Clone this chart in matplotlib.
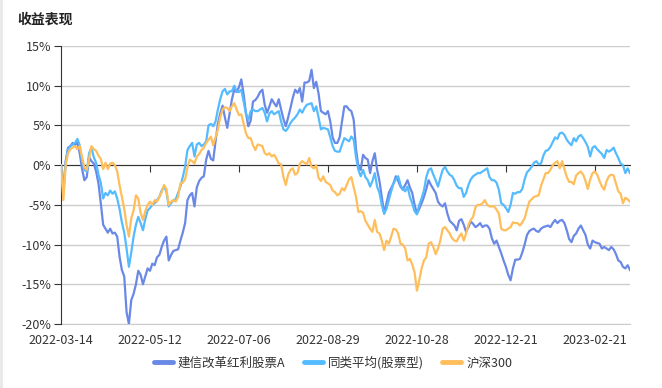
import numpy as np
import matplotlib
matplotlib.use('Agg')
import matplotlib.pyplot as plt
from matplotlib.lines import Line2D

plt.rcParams['font.family'] = ['Noto Sans CJK SC', 'DejaVu Sans']

title = '收益表现'
series_names = ['建信改革红利股票A', '同类平均(股票型)', '沪深300']
tick_labels = ['2022-03-14', '2022-05-12', '2022-07-06', '2022-08-29',
               '2022-10-28', '2022-12-21', '2023-02-21']
tick_step = 38  # trading days between labelled dates

# cumulative return, %, one value per trading day
fund = [0, -3.5, 0.5, 2.2, 2.4, 2.8, 2.5, 2.9, 1.5, -0.5,
        -1.9, -1.5, 1.0, 0.5, 0.2, -0.8, -2.3, -4.8, -7.5, -8.0,
        -8.5, -8.0, -8.6, -8.5, -9.0, -11.5, -13.2, -14.0, -18.5, -20.0,
        -17.0, -16.2, -15.0, -13.3, -13.8, -15.0, -14.0, -13.0, -13.3, -12.4,
        -12.6, -11.6, -11.3, -10.3, -9.5, -9.0, -12.0, -11.3, -10.8, -10.7,
        -10.6, -9.5, -8.5, -7.3, -4.4, -3.8, -3.5, -5.2, -2.8, -2.0,
        -1.6, -1.4, 0.7, 1.8, 0.8, 0.6, 3.0, 5.2, 6.5, 7.5,
        6.0, 4.7, 6.5, 8.3, 9.5, 9.2, 9.8, 10.8, 8.9, 6.5,
        4.9, 5.6, 8.0, 8.2, 8.6, 9.2, 9.5, 7.6, 6.6, 7.4,
        8.3, 7.8, 7.4, 8.3, 7.0, 5.8, 4.9, 6.0, 7.2, 8.5,
        9.5, 9.1, 9.7, 8.0, 10.4, 10.4, 10.6, 12.0, 9.7, 10.5,
        9.0, 6.8, 6.6, 6.4, 6.8, 5.5, 3.5, 2.8, 2.8, 3.5,
        5.5, 7.4, 7.4, 7.0, 6.8, 5.7, 2.0, -0.2, -0.6, 1.3,
        0.9, 0.7, -1.0, 0.5, 1.5, -0.6, -2.0, -4.0, -6.1, -4.8,
        -3.5, -2.9, -2.3, -1.4, -2.0, -2.7, -3.1, -2.5, -1.9, -2.8,
        -3.5, -5.0, -6.1, -5.5, -4.8, -4.0, -3.0, -1.9, -2.5, -3.0,
        -3.5, -4.6, -5.0, -5.2, -4.8, -6.1, -7.0, -7.3, -7.6, -8.2,
        -7.0, -6.8, -7.5, -8.4, -7.8, -7.1, -7.4, -7.8, -7.6, -7.3,
        -7.8, -7.6, -7.6, -8.0, -9.2, -9.9, -9.5, -10.3, -11.1, -12.0,
        -12.8, -13.8, -14.5, -13.0, -11.9, -11.9, -11.8, -11.0, -10.0, -8.8,
        -8.3, -8.1, -8.0, -8.3, -8.4, -8.0, -7.8, -7.7, -7.6, -7.8,
        -7.3, -6.9, -7.3, -7.0, -6.9, -7.3, -8.2, -9.3, -9.7, -8.9,
        -8.6, -8.0, -7.6, -8.2, -8.8, -10.0, -10.5, -9.5, -9.7, -9.8,
        -9.9, -10.5, -10.3, -10.5, -10.7, -10.3, -10.6, -11.2, -12.0, -12.2,
        -12.8, -13.0, -12.6, -13.2]

peer = [0, -3.0, 0.3, 2.0, 2.4, 2.6, 2.8, 3.3, 2.5, 0.5,
        -0.6, -0.8, 1.5, 2.2, 1.0, 0.3, -1.2, -2.2, -4.2, -3.5,
        -3.8, -3.2, -3.6, -3.3, -4.2, -5.5, -7.2, -8.5, -10.5, -12.8,
        -11.0, -9.0, -7.5, -6.5, -7.3, -8.2, -6.8, -5.7, -5.4, -5.0,
        -4.8, -4.4, -4.0, -3.2, -2.7, -3.3, -5.2, -4.8, -4.4, -4.3,
        -3.5, -2.7, -1.5, -0.2, 1.9, 2.4, 2.8, 1.1, 2.6, 2.8,
        2.4, 2.6, 3.0, 5.0, 5.2, 4.9, 5.5, 7.0, 8.3, 9.3,
        9.6, 8.9, 9.3, 9.3, 10.0, 9.3, 9.2, 9.5, 8.0, 6.5,
        5.7, 6.8, 7.0, 6.8, 6.8, 7.0, 7.2, 6.6, 5.5, 6.5,
        6.8, 6.4, 6.6, 6.8, 5.5, 4.5, 4.3, 4.7, 5.3, 5.7,
        6.0, 6.4, 7.0, 6.6, 7.2, 7.6, 7.7, 7.8, 6.8, 7.4,
        6.0, 4.5, 4.7, 4.6, 4.5, 3.5, 2.4, 1.8, 1.7, 1.7,
        2.6, 3.4, 3.2, 3.0, 3.6, 3.2, 1.0, -0.6, -1.4, -0.6,
        -1.5, -1.9, -2.7, -2.0, -1.0, -2.7, -3.5, -5.0, -6.1, -5.5,
        -4.4, -3.3, -2.3, -1.8, -1.4, -2.5, -3.0, -3.3, -2.7, -4.0,
        -4.8, -5.8, -6.2, -5.0, -4.2, -3.2, -1.5, -0.6, -0.4, -1.2,
        -1.9, -2.7, -1.6, -0.6, -0.2, -0.8, -1.2, -1.4, -1.9, -2.6,
        -2.9, -2.9, -4.0, -3.5, -2.5, -1.8, -1.4, -1.2, -1.0, -1.0,
        -0.8, -0.6, -0.4, -1.5, -1.9, -1.9, -2.2, -3.1, -4.8, -5.0,
        -5.4, -5.9, -5.0, -3.5, -3.6, -3.4, -3.4, -3.0, -1.8, -0.9,
        -0.6, -0.2, 0.3, 0.5, 0.1, 0.2, 1.2, 1.8, 1.9, 2.3,
        2.9, 3.5, 3.3, 4.0, 4.1, 3.8, 3.2, 2.8, 2.5, 3.4,
        3.0, 3.6, 3.8, 3.4, 2.9, 2.3, 1.1, 2.2, 2.4, 2.0,
        1.7, 1.4, 0.9, 1.9, 1.7, 1.9, 2.2, 1.5, 0.9, 0.2,
        0.0, -1.0, -0.4, -1.0]

hs300 = [0, -4.4, 0.0, 1.5, 2.0, 2.2, 2.4, 2.0, 2.4, 1.0,
         -0.3, -0.6, 0.8, 2.4, 2.0, 1.8, 1.2, 0.8, -0.5, 0.3,
         -0.5, 0.2, 0.3, 0.0, -0.8, -2.5, -4.0, -5.5, -7.5, -9.0,
         -6.7, -5.7, -3.8, -4.2, -6.0, -6.9, -5.8, -5.0, -4.6, -5.0,
         -4.4, -4.6, -4.0, -3.4, -2.5, -3.0, -5.0, -4.6, -4.4, -4.6,
         -4.0, -2.3, -2.2, -1.8, -0.3, 0.7, 0.5, 0.2, 1.1, 1.4,
         1.9, 2.2, 2.8, 3.2, 3.6, 2.5, 3.5, 4.5, 6.0, 7.0,
         7.3, 7.2, 6.8, 7.4, 7.8, 7.0, 6.3, 6.4, 5.2, 4.0,
         3.4, 3.4, 2.5, 1.9, 2.6, 2.5, 2.4, 1.5, 1.3, 1.5,
         1.1, 1.3, 0.8, 0.2, 0.1, -1.5, -2.5, -1.2, -0.6, -0.4,
         -1.2, -1.0, 0.2, 0.5, 0.3, 0.1, 0.9, -0.2, -0.4, 0.0,
         -1.6, -2.0, -1.4, -2.1, -2.3, -2.5, -3.2, -3.4, -3.8, -3.6,
         -2.9, -3.2, -2.5, -1.8, -1.5, -2.8, -4.0, -5.9, -5.8, -6.0,
         -7.0, -7.5, -8.0, -8.4, -6.9, -8.4, -8.6, -9.5, -10.7, -9.5,
         -9.9, -9.0, -8.0, -8.1, -8.6, -9.9, -10.0, -10.5, -12.0, -11.8,
         -12.5, -13.5, -15.8, -14.5, -13.0, -12.0, -11.6, -9.9, -9.7, -10.3,
         -11.2, -10.5, -9.5, -8.0, -7.8, -8.2, -8.6, -9.2, -9.5, -9.6,
         -9.0, -8.6, -9.5, -8.6, -7.5, -6.9, -6.5, -5.3, -5.0, -5.0,
         -4.8, -4.4, -5.0, -5.2, -5.2, -5.2, -5.6, -6.1, -8.0, -8.2,
         -8.2, -8.0, -7.8, -7.2, -7.3, -7.3, -7.6, -7.2, -6.7, -5.6,
         -4.6, -4.3, -4.0, -3.9, -3.8, -2.6, -1.8, -1.0, -1.0, -0.6,
         0.0, 0.3, 0.5, -0.4, 0.5, -0.5, -1.5, -2.1, -2.1, -2.4,
         -1.3, -1.0, -0.8, -1.2, -2.0, -3.0, -1.8, -1.0, -0.8, -1.2,
         -2.0, -2.7, -3.1, -2.0, -1.4, -1.2, -1.3, -2.3, -3.3, -3.6,
         -4.8, -4.1, -4.3, -4.6]

colors = ['#6A88E6', '#55BBFF', '#FFBE5C']

fig = plt.figure(figsize=(6.62, 3.88), dpi=100)
ax = fig.add_axes([61 / 662, 1 - 324 / 388, (630 - 61) / 662, (324 - 46) / 388])

x = np.arange(len(fund))
for i, (vals, name) in enumerate(zip([fund, peer, hs300], series_names)):
    ax.plot(x, vals, color=colors[i], lw=1.6, label=name, zorder=3 + i)

ax.set_xlim(0, len(fund) - 1)
ax.set_ylim(-20, 15)
ax.set_yticks(np.arange(-20, 16, 5))
ax.yaxis.set_major_formatter(lambda v, p: f'{v:.0f}%')
ax.grid(axis='y', color='#cccccc', lw=1)
ax.set_axisbelow(True)
ax.spines['top'].set_visible(False)
ax.spines['right'].set_visible(False)
ax.spines['left'].set_color('#333333')
ax.spines['bottom'].set_position(('data', 0))
ax.spines['bottom'].set_color('#333333')
ax.tick_params(axis='y', direction='out', length=5, color='#333333',
               labelsize=9, labelcolor='#333333', pad=2)

tick_pos = np.arange(len(tick_labels)) * tick_step
ax.set_xticks(tick_pos)
ax.tick_params(axis='x', direction='out', length=5, color='#333333', labelbottom=False)

sec = ax.secondary_xaxis('bottom')
sec.set_xticks(tick_pos, labels=tick_labels)
sec.tick_params(length=0, pad=7, labelsize=9, labelcolor='#333333')
sec.spines['bottom'].set_color('#cccccc')

fig.text(17 / 662, 1 - 20 / 388, title, fontsize=10, fontweight='bold',
         color='#222222', va='center', ha='left')

leg = fig.legend(loc='center', bbox_to_anchor=(0.503, 1 - 363 / 388), ncol=3,
                 frameon=False, fontsize=9, handlelength=1.5, handletextpad=0.4,
                 columnspacing=1.5, labelcolor='#333333')
for line in leg.get_lines():
    line.set_linewidth(3.5)
    line.set_solid_capstyle('round')

fig.add_artist(Line2D([0.002, 0.002], [0, 1], color='#e8e8e8', lw=2,
                      transform=fig.transFigure))

fig.savefig('out.png', dpi=100)
